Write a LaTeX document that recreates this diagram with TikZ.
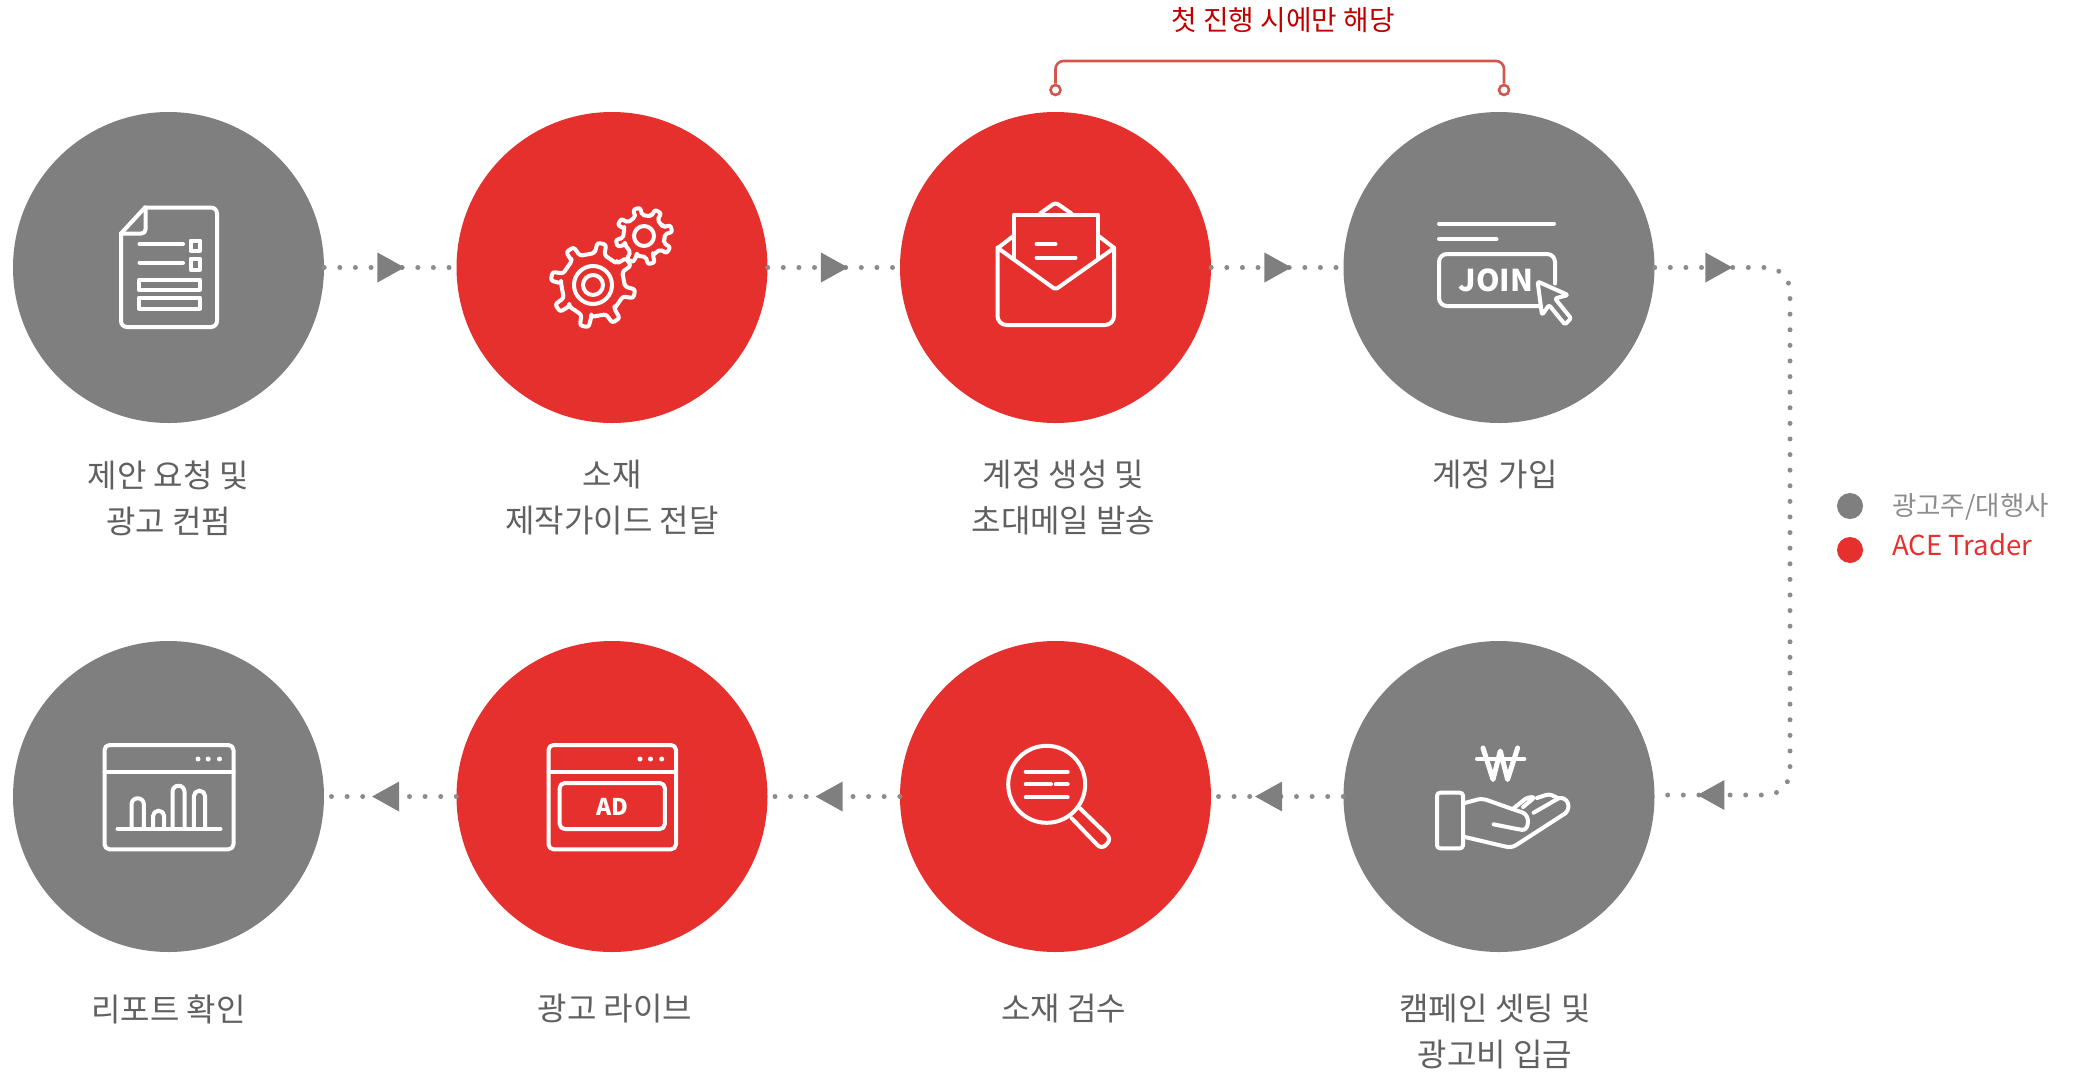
\documentclass[tikz,border=0pt]{standalone}
\usepackage{fontspec}
\setmainfont{Noto Sans CJK KR}
\usepackage{tikz}
\usetikzlibrary{shapes.geometric, arrows.meta, positioning}
\definecolor{stepgrey}{HTML}{7F7F7F}
\definecolor{stepred}{HTML}{E6302E}
\definecolor{dotgrey}{HTML}{8C8C8C}
\definecolor{textgrey}{HTML}{606060}
\definecolor{bracketred}{HTML}{D2564C}
\definecolor{notered}{HTML}{C00000}
\newlength{\stepdist}
\setlength{\stepdist}{443.5pt}
\newlength{\rowdist}
\setlength{\rowdist}{529pt}
\newlength{\stepsize}
\setlength{\stepsize}{311pt}
\newlength{\labelgap}
\setlength{\labelgap}{37pt}
\tikzstyle{grey step} = [circle, fill=stepgrey, minimum size=\stepsize, inner sep=0pt]
\tikzstyle{red step} = [circle, fill=stepred, minimum size=\stepsize, inner sep=0pt]
\tikzstyle{steplabel} = [align=center, text=textgrey, inner sep=0pt, font=\fontsize{32}{46}\selectfont]
\tikzstyle{dots} = [dotgrey, line width=5pt, line cap=round, dash pattern=on 0pt off 15.6pt]
\tikzstyle{pointer} = [isosceles triangle, isosceles triangle stretches, sharp corners, solid, fill=stepgrey, inner sep=0pt, minimum height=27pt, minimum width=30pt]
\tikzstyle{pointer back} = [pointer, shape border rotate=180]
\tikzstyle{icon} = [white, line width=4pt, line join=round, line cap=round]
\tikzstyle{icontext} = [white, inner sep=0pt, font=\bfseries]
\tikzstyle{bracket} = [bracketred, line width=2.6pt, rounded corners=8pt]
\tikzstyle{bracketend} = [circle, draw=bracketred, fill=white, line width=2.6pt, minimum size=10pt, inner sep=0pt]
\tikzstyle{legenddot} = [circle, minimum size=26pt, inner sep=0pt]
\tikzstyle{legendtext} = [inner sep=0pt, anchor=west]

\begin{document}
\begin{tikzpicture}[x=1pt, y=-1pt, node distance=\stepdist]
    \useasboundingbox (0,0) rectangle (2075,1074);

    % Top row
    \node (step1) [grey step] at (168.5,267.5) {};
    \node (step2) [red step, right of=step1] {};
    \node (step3) [red step, right of=step2] {};
    \node (step4) [grey step, right of=step3] {};

    % Bottom row
    \node (step5) [grey step, below of=step4, node distance=\rowdist] {};
    \node (step6) [red step, left of=step5] {};
    \node (step7) [red step, left of=step6] {};
    \node (step8) [grey step, left of=step7] {};

    % Labels
    \node (label1) [steplabel, below=\labelgap of step1] {제안 요청 및\\광고 컨펌};
    \node (label2) [steplabel, below=\labelgap of step2] {소재\\제작가이드 전달};
    \node (label3) [steplabel, below=\labelgap of step3, xshift=8pt] {계정 생성 및\\초대메일 발송};
    \node (label4) [steplabel, below=\labelgap of step4, xshift=-4pt] {계정 가입};
    \node (label5) [steplabel, below=\labelgap of step5, xshift=-4pt, yshift=-5pt] {캠페인 셋팅 및\\광고비 입금};
    \node (label6) [steplabel, below=\labelgap of step6, xshift=8pt, yshift=-5pt] {소재 검수};
    \node (label7) [steplabel, below=\labelgap of step7, xshift=3pt, yshift=-5pt] {광고 라이브};
    \node (label8) [steplabel, below=\labelgap of step8, yshift=-5pt] {리포트 확인};

    % Bracket
    \node (cap_left) [bracketend] at (1055.5,90) {};
    \node (cap_right) [bracketend, right of=cap_left, node distance=448.5pt] {};
    \coordinate (bracket_top) at (1281,61);
    \node (note) [inner sep=0pt, text=notered, font=\fontsize{27.8}{30}\selectfont] at (1283,20) {첫 진행 시에만 해당};

    % Legend
    \node (legend_grey) [legenddot, fill=stepgrey] at (1850,506) {};
    \node (legend_red) [legenddot, fill=stepred, below of=legend_grey, node distance=44pt] {};
    \node (legend_grey_text) [legendtext, text=dotgrey, font=\fontsize{26.5}{30}\selectfont] at (1892,507) {광고주/대행사};
    \node (legend_red_text) [legendtext, text=stepred, font=\fontsize{27.5}{30}\selectfont] at (1892,545) {ACE Trader};

    % ==== Arrows
    % Top row
    \draw [dots] (step1) -- node[pointer, pos=0.47] {} (step2);
    \draw [dots] (step2) -- node[pointer, pos=0.47] {} (step3);
    \draw [dots] (step3) -- node[pointer, pos=0.47] {} (step4);

    % Around the corner
    \coordinate [right of=step4, node distance=291pt] (turn_top);
    \coordinate [right of=step5, node distance=291pt, yshift=1.5pt] (turn_bottom);
    \draw [dots, rounded corners=24pt] (step4) -- node[pointer, pos=0.44] {} (turn_top) -- (turn_bottom) -- node[pointer back, pos=0.55] {} ([yshift=1.5pt]step5.east);

    % Bottom row
    \begin{scope}[yshift=1.5pt]
        \draw [dots] (step5) -- node[pointer back, pos=0.53] {} (step6);
        \draw [dots] (step6) -- node[pointer back, pos=0.5] {} (step7);
        \draw [dots] (step7) -- node[pointer back, pos=0.5] {} (step8);
    \end{scope}

    \draw [bracket] (cap_left) |- (bracket_top) -| (cap_right);

    % ==== Icons
    % Document
    \begin{scope}[shift={(step1.center)}]
        \draw [icon, rounded corners=6pt] (-23.5,-60) -- (48.5,-60) -- (48.5,59.5) -- (-47.5,59.5) -- (-47.5,-34);
        \draw [icon] (-47.5,-34) -- (-23.5,-60);
        \draw [icon, rounded corners=4pt] (-23,-60) -- (-23,-34) -- (-47.5,-34);
        \draw [icon] (-29,-23.5) -- (14.5,-23.5);
        \draw [icon] (-29,-5) -- (14.5,-5);
        \draw [icon] (22,-27) rectangle (31.5,-17);
        \draw [icon] (22,-9) rectangle (31.5,2);
        \draw [icon] (-29.5,12) rectangle (31.5,22);
        \draw [icon] (-29.5,30) rectangle (31.5,41);
    \end{scope}

    % Gears
    \begin{scope}[shift={(step2.center)}]
        \begin{scope}[shift={(-19,17.5)}]
            \draw [icon, rounded corners=2.5pt] (3:32)
                \foreach \a in {12,57,102,147,192,237,282,327} { -- (\a-9:32) -- (\a-6:42.5) -- (\a+6:42.5) -- (\a+9:32) -- (\a+36:32) } -- cycle;
            \draw [icon] (0,0) circle (19);
            \draw [icon] (0,0) circle (10);
        \end{scope}
        \begin{scope}[shift={(32,-31.5)}]
            \draw [icon, rounded corners=2pt] (0:21)
                \foreach \a in {30,75,120,165,210,255,300,345} { -- (\a-10:21) -- (\a-7:28.5) -- (\a+7:28.5) -- (\a+10:21) -- (\a+35:21) } -- cycle;
            \draw [icon] (0,0) circle (10);
        \end{scope}
    \end{scope}

    % Envelope
    \begin{scope}[shift={(step3.center)}]
        \draw [icon, rounded corners=9pt] (-58,-20) -- (-58,57.5) -- (58.5,57.5) -- (58.5,-20);
        \draw [icon, rounded corners=2pt] (-57,-19) -- (0,22) -- (58,-19);
        \draw [icon] (-41.5,-9) -- (-41.5,-53) -- (42.5,-53) -- (42.5,-9);
        \draw [icon] (-57,-20) -- (-41.5,-32);
        \draw [icon] (58,-20) -- (42.5,-32);
        \draw [icon, rounded corners=3pt] (-15.5,-54) -- (0,-65) -- (16,-54);
        \draw [icon] (-19,-23.5) -- (0,-23.5);
        \draw [icon] (-19,-10) -- (20,-10);
    \end{scope}

    % Join
    \begin{scope}[shift={(step4.center)}]
        \draw [icon] (-60,-44) -- (55,-44);
        \draw [icon] (-60,-28.5) -- (-2.5,-28.5);
        \draw [icon, rounded corners=8pt] (40,38.5) -- (-60,38.5) -- (-60,-13.5) -- (56,-13.5) -- (56,16);
        \node (join_text) [icontext, font=\bfseries\fontsize{30}{32}\selectfont] at (-3,13) {JOIN};
        \draw [icon, rounded corners=1.5pt] (38.6,14) -- (69,27.5) -- (56,31) -- (72,50.8) -- (66,57) -- (50,37.5) -- (43,47.5) -- cycle;
    \end{scope}

    % Hand with won sign
    \begin{scope}[shift={(step5.center)}, yshift=1.5pt]
        \draw [icon, line width=5pt] (-16,-47) -- (-6,-15.5) -- (1.3,-44) -- (8.6,-15.5) -- (18.6,-47);
        \draw [icon] (-22,-36) -- (25.3,-36);
        \draw [icon, rounded corners=3pt] (-62,-2.3) rectangle (-36,53.3);
        \draw [icon, rounded corners=5pt] (-35.4,8.3) -- (-17,3.3) -- (18,15.7) .. controls (32,20) and (30,36) .. (18,34) -- (-5.4,29.3);
        \draw [icon, rounded corners=3pt] (-35.4,41.7) -- (9.6,52.3) -- (14.6,51.7) -- (66.3,18.3);
        \draw [icon] (66.3,18.3) .. controls (73,12) and (68,1) .. (59.6,3.3) -- (34.6,17.7);
        \draw [icon, rounded corners=3pt] (14.6,13.3) -- (28,2.5) -- (36,2) -- (24,12);
        \draw [icon, rounded corners=3pt] (38,3) -- (50,-1) -- (59.6,3.3);
    \end{scope}

    % Magnifier
    \begin{scope}[shift={(step6.center)}, yshift=1.5pt]
        \draw [icon] (-8.8,-10.7) circle (38.5);
        \draw [icon] (-29.8,-23.3) -- (12.2,-23.3);
        \draw [icon] (-29.8,-10.7) -- (-4.5,-10.7);
        \draw [icon] (0.2,-10.7) -- (12.2,-10.7);
        \draw [icon] (-29.8,2.3) -- (12.2,2.3);
        \draw [icon, rounded corners=6pt] (24.5,13.3) -- (56,44) -- (46.2,54.5) -- (16.2,23.3);
    \end{scope}

    % Ad window
    \begin{scope}[shift={(step7.center)}, yshift=1.5pt]
        \draw [icon, rounded corners=5pt] (-63.5,-50) rectangle (64,54.3);
        \draw [icon] (-63.5,-23.3) -- (64,-23.3);
        \fill [white] (28,-36) circle (2.5) (38.5,-36) circle (2.5) (49.7,-36) circle (2.5);
        \draw [icon, rounded corners=5pt] (-52.3,-12) rectangle (52.8,34);
        \node (ad_text) [icontext, font=\bfseries\fontsize{23}{25}\selectfont] at (0,11.7) {AD};
    \end{scope}

    % Report window
    \begin{scope}[shift={(step8.center)}, yshift=1.5pt]
        \draw [icon, rounded corners=5pt] (-64,-50) rectangle (65,54.3);
        \draw [icon] (-64,-23.3) -- (65,-23.3);
        \fill [white] (29.5,-36) circle (2.5) (39.7,-36) circle (2.5) (51,-36) circle (2.5);
        \draw [icon] (-51,33.7) -- (52,33.7);
        \draw [icon, rounded corners=6pt] (-37,33.7) -- (-37,3.3) -- (-24.6,3.3) -- (-24.6,33.7);
        \draw [icon, rounded corners=5.5pt] (-15.5,33.7) -- (-15.5,15.7) -- (-4.3,15.7) -- (-4.3,33.7);
        \draw [icon, rounded corners=6pt] (4,33.7) -- (4,-9.3) -- (16,-9.3) -- (16,33.7);
        \draw [icon, rounded corners=5.5pt] (25.4,33.7) -- (25.4,-4.3) -- (36.6,-4.3) -- (36.6,33.7);
    \end{scope}

\end{tikzpicture}
\end{document}
